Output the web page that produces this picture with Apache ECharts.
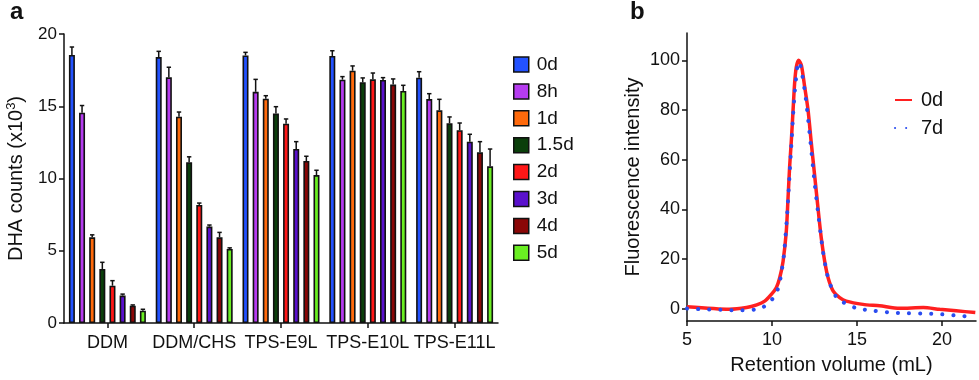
<!DOCTYPE html>
<html>
<head>
<meta charset="utf-8">
<script src="https://cdn.jsdelivr.net/npm/echarts@6/dist/echarts.min.js"></script>
<style>html,body{margin:0;padding:0;background:#fff}#c{width:979px;height:380px}</style>
</head>
<body>
<div id="c"></div>
<script>
// ---------- Panel a data ----------
const categories = ['DDM', 'DDM/CHS', 'TPS-E9L', 'TPS-E10L', 'TPS-E11L'];
const timepoints = ['0d', '8h', '1d', '1.5d', '2d', '3d', '4d', '5d'];
const v0d  = [18.55, 18.40, 18.52, 18.48, 16.98];
const v8h  = [14.55, 17.00, 16.00, 16.84, 15.50];
const v1d  = [5.93, 14.28, 15.52, 17.46, 14.72];
const v15d = [3.74, 11.12, 14.49, 16.66, 13.82];
const v2d  = [2.58, 8.17, 13.79, 16.86, 13.34];
const v3d  = [1.90, 6.67, 12.04, 16.82, 12.55];
const v4d  = [1.20, 5.93, 11.21, 16.50, 11.81];
const v5d  = [0.85, 5.12, 10.24, 16.06, 10.84];
const e0d  = [0.55, 0.40, 0.21, 0.36, 0.41];
const e8h  = [0.50, 0.70, 0.86, 0.21, 0.37];
const e1d  = [0.17, 0.32, 0.21, 0.33, 0.76];
const e15d = [0.46, 0.38, 0.48, 0.30, 0.44];
const e2d  = [0.35, 0.13, 0.33, 0.44, 0.50];
const e3d  = [0.10, 0.11, 0.51, 0.16, 0.51];
const e4d  = [0.05, 0.34, 0.33, 0.39, 0.74];
const e5d  = [0.10, 0.08, 0.33, 0.39, 1.20];
const yTicksA = [0, 5, 10, 15, 20];

// ---------- Panel b data ----------
const rv0d = [5, 7.5, 8.5, 9.1, 9.57, 9.96, 10.25, 10.45, 10.65, 10.84, 10.94, 11.04, 11.14, 11.24, 11.33, 11.43, 11.57, 11.73, 11.92, 12.12, 12.31, 12.51, 12.71, 12.9, 13.1, 13.3, 13.6, 13.98, 14.37, 15.35, 16.33, 17.5, 18.9, 19.86, 20.84, 21.96];
const fi0d = [0.7, -0.3, 0.4, 1.5, 3, 5.7, 8.4, 12.3, 19, 31, 44, 57.5, 68, 80, 90.7, 97.3, 100, 98, 89.4, 80, 66.8, 53.5, 40.2, 28.3, 19, 12.4, 7, 4.4, 3, 1.7, 1.1, 0.1, 0.4, -0.3, -0.9, -1.6];
const rv7d = [5, 6, 7, 8, 9, 9.5, 10, 10.3, 10.5, 10.7, 10.9, 11.1, 11.3, 11.5, 11.6, 11.75, 12, 12.25, 12.5, 12.75, 13, 13.25, 13.5, 13.75, 14, 14.5, 15, 16, 17, 18, 19, 20, 21, 21.7];
const fi7d = [0, -0.3, -0.5, -0.7, -0.4, 0.7, 3.7, 7, 12.3, 21.6, 39, 61.5, 84, 98, 99.3, 95.4, 84, 68, 51, 36.3, 23, 13.7, 8.4, 5, 3.3, 1.5, 0.1, -0.9, -1.6, -1.9, -2, -2.3, -2.9, -3.3];
const xTicksB = [5, 10, 15, 20];
const yTicksB = [0, 20, 40, 60, 80, 100];

// ---------- build ----------
const values = [v0d, v8h, v1d, v15d, v2d, v3d, v4d, v5d];
const errors = [e0d, e8h, e1d, e15d, e2d, e3d, e4d, e5d];
const colors = ['#2352ff', '#b63cf0', '#ff6a0c', '#0b3f0b', '#ff1717', '#5a10cc', '#8a0707', '#6aee22'];
const FONT = 'Liberation Sans, Arial, sans-serif';
const BAR_W = 6, BAR_GAP = 0.69;
const PITCH = BAR_W * (1 + BAR_GAP);

const barSeries = timepoints.map((t, i) => ({
  name: t, type: 'bar', xAxisIndex: 0, yAxisIndex: 0,
  data: values[i], barWidth: BAR_W, barGap: (BAR_GAP * 100) + '%',
  itemStyle: { color: colors[i], borderColor: '#111', borderWidth: 1.6 },
  emphasis: { disabled: true }
}));

const errData = [];
timepoints.forEach((t, i) => {
  categories.forEach((c, j) => {
    errData.push([j, i, values[i][j], values[i][j] + errors[i][j]]);
  });
});

const errSeries = {
  type: 'custom', xAxisIndex: 0, yAxisIndex: 0, z: 5,
  data: errData,
  encode: { x: 0, y: 3 },
  renderItem: function (params, api) {
    const cat = api.value(0), si = api.value(1), v = api.value(2), top = api.value(3);
    const b = api.coord([cat, v]);
    const tp = api.coord([cat, top]);
    const x = b[0] + (si - 3.5) * PITCH;
    return {
      type: 'group',
      children: [
        { type: 'line', shape: { x1: x, y1: b[1], x2: x, y2: tp[1] }, style: { stroke: '#111', lineWidth: 1.5 } },
        { type: 'line', shape: { x1: x - 2.2, y1: tp[1], x2: x + 2.2, y2: tp[1] }, style: { stroke: '#111', lineWidth: 1.5 } }
      ]
    };
  }
};

const lineA = {
  name: '0d ', type: 'line', xAxisIndex: 1, yAxisIndex: 1,
  data: rv0d.map((x, i) => [x, fi0d[i]]),
  showSymbol: false, symbol: 'none', smooth: 0.25, z: 3,
  lineStyle: { color: '#ff2020', width: 3.5 },
  itemStyle: { color: '#ff2020' }
};
const lineB = {
  name: '7d', type: 'line', xAxisIndex: 1, yAxisIndex: 1,
  data: rv7d.map((x, i) => [x, fi7d[i]]),
  showSymbol: false, symbol: 'none', smooth: 0.25, z: 4,
  lineStyle: { color: '#2a4cf0', width: 4, type: [0.1, 11], cap: 'round' },
  itemStyle: { color: '#2a4cf0' }
};

const axisLineStyle = { show: true, lineStyle: { color: '#111', width: 1.5 } };
const axisTickStyle = { show: true, inside: false, length: 5, lineStyle: { color: '#111', width: 1.5 } };

const option = {
  animation: false,
  textStyle: { fontFamily: FONT, color: '#111' },
  title: [
    { text: 'a', left: 10, top: 0, padding: 0, textStyle: { fontFamily: FONT, fontSize: 24, fontWeight: 'bold', color: '#111' } },
    { text: 'b', left: 630, top: 0, padding: 0, textStyle: { fontFamily: FONT, fontSize: 24, fontWeight: 'bold', color: '#111' } }
  ],
  legend: [
    {
      data: timepoints, orient: 'vertical', left: 508, top: 50,
      itemWidth: 15, itemHeight: 15, itemGap: 7.9, icon: 'rect',
      itemStyle: { borderColor: '#111', borderWidth: 1.5 },
      textStyle: { fontFamily: FONT, fontSize: 19, color: '#111', padding: [0, 0, 0, 3] },
      selectedMode: false
    },
    {
      data: ['0d ', '7d'], orient: 'vertical', left: 889, top: 85,
      itemWidth: 17, itemHeight: 14, itemGap: 8,
      itemStyle: { color: 'rgba(0,0,0,0)', borderColor: 'rgba(0,0,0,0)', borderWidth: 0 },
      textStyle: { fontFamily: FONT, fontSize: 20, color: '#111', padding: [0, 0, 0, 4] },
      selectedMode: false
    }
  ],
  grid: [
    { left: 64, right: 481, top: 34, bottom: 57 },
    { left: 687, right: 3, top: 33, bottom: 57 }
  ],
  xAxis: [
    {
      type: 'category', gridIndex: 0, data: categories,
      axisLine: axisLineStyle,
      axisTick: Object.assign({}, axisTickStyle, { alignWithLabel: true }),
      axisLabel: { fontFamily: FONT, fontSize: 18, color: '#111', margin: 11, interval: 0 },
      splitLine: { show: false }
    },
    {
      type: 'value', gridIndex: 1, min: 5, max: 22, interval: 5,
      axisLine: Object.assign({}, axisLineStyle, { onZero: false }),
      axisTick: Object.assign({}, axisTickStyle, { customValues: xTicksB }),
      axisLabel: { fontFamily: FONT, fontSize: 18, color: '#111', margin: 10, customValues: xTicksB },
      splitLine: { show: false },
      name: 'Retention volume (mL)', nameLocation: 'middle', nameGap: 34,
      nameTextStyle: { fontFamily: FONT, fontSize: 20, color: '#111' }
    }
  ],
  yAxis: [
    {
      type: 'value', gridIndex: 0, min: 0, max: 20, interval: 5,
      axisLine: axisLineStyle, axisTick: Object.assign({}, axisTickStyle, { customValues: yTicksA }),
      axisLabel: { fontFamily: FONT, fontSize: 17, color: '#111', margin: 7, customValues: yTicksA },
      splitLine: { show: false },
      name: 'DHA counts (x10{sup|3})', nameLocation: 'middle', nameGap: 37,
      nameTextStyle: {
        fontFamily: FONT, fontSize: 20, color: '#111',
        rich: { sup: { fontFamily: FONT, fontSize: 13, color: '#111', verticalAlign: 'top', padding: [0, 0, 9, 0] } }
      }
    },
    {
      type: 'value', gridIndex: 1, min: -5, max: 111,
      axisLine: Object.assign({}, axisLineStyle, { onZero: false }),
      axisTick: Object.assign({}, axisTickStyle, { customValues: yTicksB }),
      axisLabel: { fontFamily: FONT, fontSize: 18, color: '#111', margin: 7, customValues: yTicksB },
      splitLine: { show: false },
      name: 'Fluorescence intensity', nameLocation: 'middle', nameGap: 44,
      nameTextStyle: { fontFamily: FONT, fontSize: 20, color: '#111' }
    }
  ],
  series: barSeries.concat([errSeries, lineA, lineB])
};

const chart = echarts.init(document.getElementById('c'), null, { renderer: 'canvas' });
chart.setOption(option);
</script>
</body>
</html>
